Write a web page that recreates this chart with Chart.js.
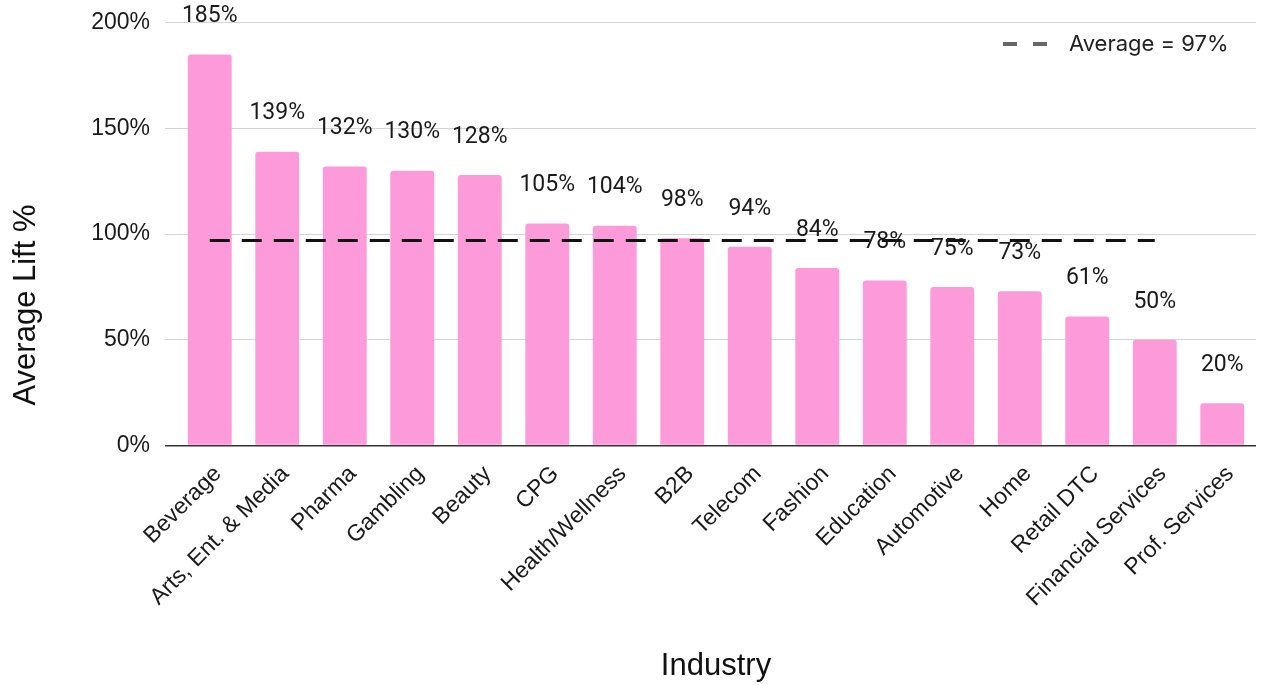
<!DOCTYPE html>
<html>
<head>
<meta charset="utf-8">
<script src="https://cdn.jsdelivr.net/npm/chart.js@4/dist/chart.umd.min.js"></script>
<style>
  html, body { margin: 0; padding: 0; background: #fff; }
  #wrap { width: 1261px; height: 685px; position: relative; }
</style>
</head>
<body>
<div id="wrap"><canvas id="chart"></canvas></div>
<script>
// ── DATA ──────────────────────────────────────────────────────
const industries = [
  'Beverage', 'Arts, Ent. & Media', 'Pharma', 'Gambling', 'Beauty', 'CPG',
  'Health/Wellness', 'B2B', 'Telecom', 'Fashion', 'Education', 'Automotive',
  'Home', 'Retail DTC', 'Financial Services', 'Prof. Services'
];
const liftValues = [185, 139, 132, 130, 128, 105, 104, 98, 94, 84, 78, 75, 73, 61, 50, 20];
const averageLift = 97;
const averageSpan = 15;   // the average line runs across the first 15 industries
const yTicks = [0, 50, 100, 150, 200];

const avgData = industries.map((_, i) => (i < averageSpan ? averageLift : null));

const PINK = '#fd9bda';

// ── PLUGINS ───────────────────────────────────────────────────
// value labels floating above each bar
const barLabels = {
  id: 'barLabels',
  afterDatasetsDraw(chart) {
    const meta = chart.getDatasetMeta(0);
    const { ctx } = chart;
    ctx.save();
    ctx.font = '23px Roboto';
    ctx.fillStyle = '#1a1a1a';
    ctx.textAlign = 'center';
    ctx.textBaseline = 'middle';
    meta.data.forEach((bar, i) => {
      ctx.fillText(liftValues[i] + '%', bar.x, bar.y - 38);
    });
    ctx.restore();
  }
};

// legend entry for the dashed average line + the rotated y title
const extras = {
  id: 'extras',
  afterDraw(chart) {
    const { ctx, chartArea } = chart;
    const x0 = chartArea.right - 253, y = 44;
    ctx.save();
    ctx.strokeStyle = '#666';
    ctx.lineWidth = 4;
    ctx.setLineDash([14, 16]);
    ctx.beginPath();
    ctx.moveTo(x0, y);
    ctx.lineTo(x0 + 44, y);
    ctx.stroke();
    ctx.setLineDash([]);
    ctx.font = '22px Inter';
    ctx.fillStyle = '#222';
    ctx.textBaseline = 'middle';
    ctx.fillText(chart.data.datasets[1].label, x0 + 66, y);

    // y axis title sits a bit below the plot's middle
    ctx.translate(26, 305);
    ctx.rotate(-Math.PI / 2);
    ctx.font = '31px Liberation Sans';
    ctx.fillStyle = '#111';
    ctx.textAlign = 'center';
    ctx.fillText('Average Lift %', 0, 0);
    ctx.restore();
  }
};

// ── CHART ─────────────────────────────────────────────────────
new Chart(document.getElementById('chart'), {
  type: 'bar',
  data: {
    labels: industries,
    datasets: [
      {
        label: 'Average Lift %',
        data: liftValues,
        backgroundColor: PINK,
        borderRadius: 3,
        borderSkipped: 'start',
        barPercentage: 0.65,
        categoryPercentage: 1,
        order: 2,
      },
      {
        type: 'line',
        label: 'Average = ' + averageLift + '%',
        data: avgData,
        borderColor: '#111',
        borderWidth: 3,
        borderDash: [20, 12],
        pointRadius: 0,
        fill: false,
        spanGaps: false,
        order: 1,
      },
    ],
  },
  options: {
    responsive: true, maintainAspectRatio: false, animation: false,
    layout: { padding: { top: 22.7, right: 5, left: 0, bottom: 0 } },
    plugins: {
      legend: { display: false },
      tooltip: { enabled: false },
    },
    scales: {
      x: {
        grid: { display: false },
        border: { display: false },
        ticks: {
          color: '#1a1a1a', font: { family: 'Liberation Sans', size: 23 },
          maxRotation: 45, minRotation: 45, padding: 7, labelOffset: 8, autoSkip: false,
        },
        title: {
          display: true, text: 'Industry', color: '#111',
          font: { family: 'Liberation Sans', size: 31 },
          padding: { top: 4, bottom: 0 },
        },
        afterFit: s => { s.height = 239.5; },
      },
      y: {
        min: 0, max: 200,
        afterBuildTicks: s => { s.ticks = yTicks.map(v => ({ value: v })); },
        grid: {
          color: ctx => (ctx.tick && ctx.tick.value === 0 ? '#333' : '#d4d4d4'),
          lineWidth: ctx => (ctx.tick && ctx.tick.value === 0 ? 1.5 : 1),
          tickLength: 11,
        },
        border: { display: false },
        ticks: {
          color: '#1a1a1a', font: { family: 'Liberation Sans', size: 23 },
          padding: 15,
          callback: v => v + '%',
        },
        afterFit: s => { s.width = 176; s.paddingTop = 0; s.paddingBottom = 0; },
      },
    },
  },
  plugins: [barLabels, extras],
});
</script>
</body>
</html>
